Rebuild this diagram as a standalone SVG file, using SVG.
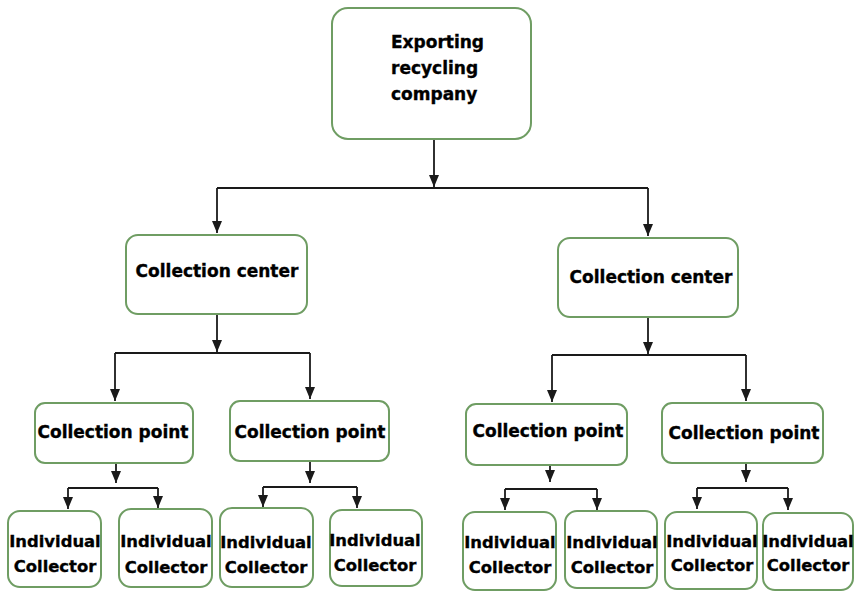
<svg xmlns="http://www.w3.org/2000/svg" width="854" height="592" viewBox="0 0 854 592">
<defs>
<marker id="ah" viewBox="0 0 12 10" refX="12" refY="5" markerWidth="12" markerHeight="10" markerUnits="userSpaceOnUse" orient="auto">
<path d="M0,0 L12,5 L0,10 z" fill="#1a1a1a"/>
</marker>
<style>
.box{fill:#fff;stroke:#6f9d63;stroke-width:2}
.t{font-family:"DejaVu Sans",Verdana,sans-serif;font-weight:bold;font-size:17px;fill:#000;stroke:#000;stroke-width:0.35}
.s{font-size:16.4px}
.c{fill:none;stroke:#1a1a1a;stroke-width:1.8}
.a{marker-end:url(#ah)}
</style>
</defs>
<rect width="854" height="592" fill="#fff"/>
<g id="connectors">
<path class="c a" d="M434,139 V187"/>
<path class="c" d="M217,188 H648"/>
<path class="c a" d="M217,188 V233"/>
<path class="c a" d="M648,188 V236"/>
<path class="c a" d="M217,314 V352"/>
<path class="c" d="M115,353 H310"/>
<path class="c a" d="M115,353 V401"/>
<path class="c a" d="M310,353 V399"/>
<path class="c a" d="M648,317 V354"/>
<path class="c" d="M552,355 H746"/>
<path class="c a" d="M552,355 V402"/>
<path class="c a" d="M746,355 V401"/>
<path class="c a" d="M116,463 V483"/>
<path class="c" d="M68,488 H158"/>
<path class="c a" d="M68,488 V509"/>
<path class="c a" d="M158,488 V508"/>
<path class="c a" d="M310,461 V483"/>
<path class="c" d="M263,487 H357"/>
<path class="c a" d="M263,487 V507"/>
<path class="c a" d="M357,487 V508"/>
<path class="c a" d="M550,465 V482"/>
<path class="c" d="M505,489 H597"/>
<path class="c a" d="M505,489 V510"/>
<path class="c a" d="M597,489 V510"/>
<path class="c a" d="M746,463 V482"/>
<path class="c" d="M697,488 H788"/>
<path class="c a" d="M697,488 V509"/>
<path class="c a" d="M788,488 V510"/>
</g>
<g id="exporting">
<rect class="box" x="332" y="8" width="199" height="131" rx="16"/>
<text class="t" x="391" y="48">Exporting</text>
<text class="t" x="391" y="74">recycling</text>
<text class="t" x="391" y="100">company</text>
</g>
<g id="center-left">
<rect class="box" x="126" y="235" width="181" height="79" rx="12"/>
<text class="t" x="217" y="277" text-anchor="middle">Collection center</text>
</g>
<g id="center-right">
<rect class="box" x="558" y="238" width="180" height="79" rx="12"/>
<text class="t" x="651" y="283" text-anchor="middle">Collection center</text>
</g>
<g id="point-1">
<rect class="box" x="35" y="403" width="158" height="60" rx="10"/>
<text class="t" x="113" y="438" text-anchor="middle">Collection point</text>
</g>
<g id="point-2">
<rect class="box" x="230" y="401" width="159" height="60" rx="10"/>
<text class="t" x="310" y="438" text-anchor="middle">Collection point</text>
</g>
<g id="point-3">
<rect class="box" x="466" y="404" width="161" height="61" rx="10"/>
<text class="t" x="548" y="437" text-anchor="middle">Collection point</text>
</g>
<g id="point-4">
<rect class="box" x="662" y="403" width="161" height="60" rx="10"/>
<text class="t" x="744" y="439" text-anchor="middle">Collection point</text>
</g>
<g id="collector-1">
<rect class="box" x="8" y="511" width="93" height="76" rx="12"/>
<text class="t s" x="55" y="547" text-anchor="middle">Individual</text>
<text class="t s" x="55" y="572" text-anchor="middle">Collector</text>
</g>
<g id="collector-2">
<rect class="box" x="119" y="509" width="93" height="78" rx="12"/>
<text class="t s" x="166" y="547" text-anchor="middle">Individual</text>
<text class="t s" x="166" y="573" text-anchor="middle">Collector</text>
</g>
<g id="collector-3">
<rect class="box" x="220" y="508" width="93" height="79" rx="12"/>
<text class="t s" x="266" y="548" text-anchor="middle">Individual</text>
<text class="t s" x="266" y="573" text-anchor="middle">Collector</text>
</g>
<g id="collector-4">
<rect class="box" x="330" y="510" width="92" height="76" rx="12"/>
<text class="t s" x="375" y="546" text-anchor="middle">Individual</text>
<text class="t s" x="375" y="571" text-anchor="middle">Collector</text>
</g>
<g id="collector-5">
<rect class="box" x="463" y="512" width="93" height="78" rx="12"/>
<text class="t s" x="510" y="548" text-anchor="middle">Individual</text>
<text class="t s" x="510" y="573" text-anchor="middle">Collector</text>
</g>
<g id="collector-6">
<rect class="box" x="565" y="511" width="92" height="77" rx="12"/>
<text class="t s" x="612" y="548" text-anchor="middle">Individual</text>
<text class="t s" x="612" y="573" text-anchor="middle">Collector</text>
</g>
<g id="collector-7">
<rect class="box" x="665" y="512" width="92" height="77" rx="12"/>
<text class="t s" x="712" y="547" text-anchor="middle">Individual</text>
<text class="t s" x="712" y="571" text-anchor="middle">Collector</text>
</g>
<g id="collector-8">
<rect class="box" x="763" y="513" width="90" height="77" rx="12"/>
<text class="t s" x="808" y="547" text-anchor="middle">Individual</text>
<text class="t s" x="808" y="571" text-anchor="middle">Collector</text>
</g>
</svg>
